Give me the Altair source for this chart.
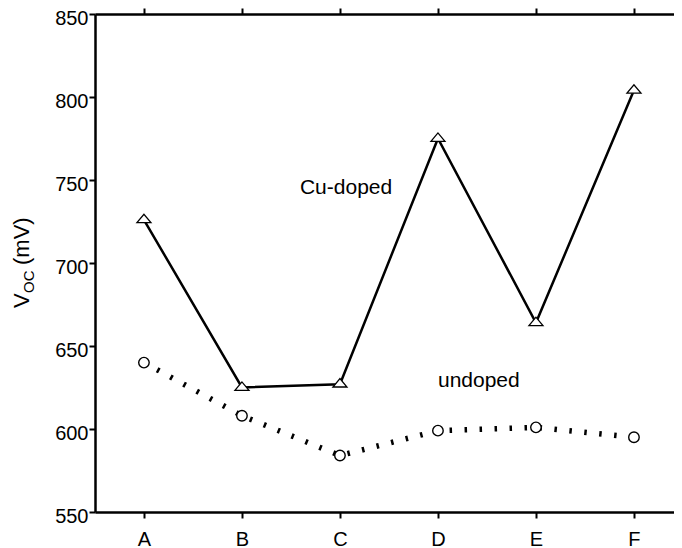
import altair as alt
import pandas as pd

samples = ["A", "B", "C", "D", "E", "F"]
cu_doped = [726, 625, 627, 775, 664, 804]
undoped = [640, 608, 584, 599, 601, 595]
y_ticks = [550, 600, 650, 700, 750, 800, 850]

FONT = "Liberation Sans"
# triangle with its centroid on the data point
TRIANGLE = "M-1,0.4L1,0.4L0,-0.8Z"

cu = pd.DataFrame({"sample": samples, "voc": cu_doped})
un = pd.DataFrame({"sample": samples, "voc": undoped})

x_scale = alt.Scale(type="point", domain=samples, padding=0.454, align=0.55)
y_scale = alt.Scale(domain=[550, 850], nice=False, zero=False)

axis_style = dict(
    domainColor="black", domainWidth=2.5, tickColor="black", tickWidth=2,
    tickSize=6, labelFont=FONT, labelFontSize=20, labelColor="black",
    grid=False, title=None,
)

x_bottom = alt.X("sample:N", scale=x_scale,
                 axis=alt.Axis(orient="bottom", labelAngle=0, labelPadding=11, **axis_style))
x_top = alt.X("sample:N", scale=x_scale,
              axis=alt.Axis(orient="top", labels=False, **axis_style))
x_plain = alt.X("sample:N", scale=x_scale, axis=None)
y_enc = alt.Y("voc:Q", scale=y_scale,
              axis=alt.Axis(values=y_ticks, labelPadding=1, labelOffset=4, **axis_style))

cu_line = alt.Chart(cu).mark_line(color="black", strokeWidth=2.5).encode(x=x_bottom, y=y_enc)
un_line = alt.Chart(un).mark_line(
    color="black", strokeWidth=5.5, strokeDash=[2.5, 12.5], strokeCap="butt"
).encode(x=x_plain, y=y_enc)

cu_pts = alt.Chart(cu).mark_point(
    shape=TRIANGLE, size=196, filled=True, fill="white", stroke="black",
    strokeWidth=1.3, opacity=1
).encode(x=x_top, y=y_enc)
un_pts = alt.Chart(un).mark_point(
    shape="circle", size=110, filled=True, fill="white", stroke="black",
    strokeWidth=1.4, opacity=1
).encode(x=x_plain, y=y_enc)

cu_note = alt.Chart(pd.DataFrame({"sample": ["C"], "voc": [745], "label": ["Cu-doped"]})).mark_text(
    font=FONT, fontSize=21, align="left", baseline="middle", color="black", dx=-40
).encode(x=x_plain, y=y_enc, text="label:N")
un_note = alt.Chart(pd.DataFrame({"sample": ["D"], "voc": [629], "label": ["undoped"]})).mark_text(
    font=FONT, fontSize=21, align="left", baseline="middle", color="black"
).encode(x=x_plain, y=y_enc, text="label:N")

# y axis title with subscript, built from three text pieces
title_parts = pd.DataFrame({
    "part": ["V", "OC", "(mV)"],
    "px": [-66, -61, -66],
    "py": [294, 279, 251],
    "fs": [22, 15, 22],
})
title_text = alt.Chart(title_parts).mark_text(
    font=FONT, angle=270, align="left", baseline="alphabetic", color="black"
).encode(
    x=alt.X("px:Q", scale=None),
    y=alt.Y("py:Q", scale=None),
    text="part:N",
    size=alt.Size("fs:Q", scale=None, legend=None),
)

chart = alt.layer(cu_line, un_line, cu_pts, un_pts, cu_note, un_note, title_text).resolve_axis(
    x="independent"
).properties(
    width=579, height=498,
    autosize=alt.AutoSizeParams(type="none"),
    padding={"left": 87, "top": 6, "right": 0, "bottom": 40},
).configure_view(stroke=None)

chart.save("out.html", embed_options={"renderer": "svg", "actions": False})
